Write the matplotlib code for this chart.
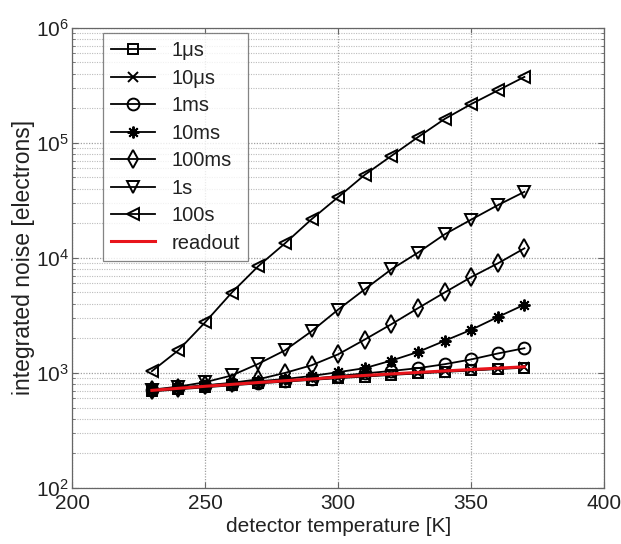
import matplotlib
matplotlib.use("Agg")
import matplotlib.pyplot as plt
from matplotlib.ticker import LogLocator, FixedLocator

plt.rcParams['font.family'] = ['Liberation Sans', 'DejaVu Sans']
plt.rcParams['mathtext.fontset'] = 'custom'
plt.rcParams['mathtext.rm'] = 'Liberation Sans'

temps = [230, 240, 250, 260, 270, 280, 290, 300, 310, 320, 330, 340, 350, 360, 370]

noise_1us = [690, 720, 750, 780, 810, 840, 870, 900, 930, 960, 990, 1020, 1050, 1080, 1110]
noise_10us = [700, 730, 760, 790, 820, 850, 880, 910, 940, 970, 1000, 1030, 1060, 1090, 1120]
noise_1ms = [705, 735, 765, 795, 825, 855, 890, 940, 990, 1040, 1100, 1190, 1310, 1475, 1640]
noise_10ms = [710, 740, 775, 810, 845, 885, 940, 1015, 1100, 1280, 1520, 1900, 2370, 3060, 3920]
noise_100ms = [710, 745, 780, 820, 880, 1000, 1165, 1450, 1950, 2650, 3650, 5000, 6800, 8950, 12100]
noise_1s = [715, 760, 830, 950, 1200, 1570, 2300, 3550, 5330, 7950, 11100, 16000, 21500, 28700, 37500]
noise_100s = [1035, 1575, 2750, 4980, 8470, 13350, 21650, 33700, 52700, 76900, 112000, 161000, 217000, 285000, 374000]
noise_readout = [705, 735, 765, 795, 825, 855, 885, 920, 950, 980, 1010, 1040, 1070, 1100, 1130]

labels = ['1\u03bcs', '10\u03bcs', '1ms', '10ms', '100ms', '1s', '100s', 'readout']
xticks = [200, 250, 300, 350, 400]

fig = plt.figure(figsize=(6.21, 5.44), dpi=100)
ax = fig.add_axes([0.116, 0.103, 0.857, 0.846])

series = [
    (noise_1us, 's', 7),
    (noise_10us, 'x', 7),
    (noise_1ms, 'o', 8.5),
    (noise_10ms, (8, 2, 0), 8.5),
    (noise_100ms, 'd', 9),
    (noise_1s, 'v', 9),
    (noise_100s, '<', 9),
]
for (vals, m, ms), lab in zip(series, labels[:7]):
    ax.plot(temps, vals, color='black', lw=1.3, marker=m, ms=ms,
            mfc='none', mec='black', mew=1.4, label=lab)
ax.plot(temps, noise_readout, color='#e8141b', lw=2.2, label=labels[7])

ax.set_yscale('log')
ax.set_xlim(200, 400)
ax.set_ylim(1e2, 1e6)
ax.xaxis.set_major_locator(FixedLocator(xticks))
ax.yaxis.set_major_locator(LogLocator(base=10, numticks=10))
ax.yaxis.set_minor_locator(LogLocator(base=10, subs=range(2, 10), numticks=20))

ax.grid(True, which='major', axis='both', color='#a0a0a0', ls=(0, (1, 1.2)), lw=0.9)
ax.grid(True, which='minor', axis='y', color='#bcbcbc', ls=(0, (1, 1.2)), lw=0.8)
ax.tick_params(which='both', direction='in', top=True, right=True, labelsize=15,
               color='#666666', labelcolor='#222222')
ax.tick_params(which='minor', length=2.5)
ax.tick_params(which='major', length=4, pad=2)
ax.tick_params(axis='x', which='major', pad=4.5)
for s in ax.spines.values():
    s.set_color('#666666')
    s.set_linewidth(0.9)

ax.set_xlabel('detector temperature [K]', fontsize=15, labelpad=3, color='#222222')
ax.set_ylabel('integrated noise [electrons]', fontsize=16.5, labelpad=1, color='#222222')

leg = ax.legend(loc='upper left', bbox_to_anchor=(0.058, 0.988), fontsize=14.5,
                frameon=True, fancybox=False, edgecolor='#666666',
                handlelength=2.2, borderpad=0.4, labelspacing=0.42,
                handletextpad=0.8, borderaxespad=0)
leg.get_frame().set_linewidth(0.9)
for t in leg.get_texts():
    t.set_color('#222222')

fig.savefig('out.png', dpi=100)
